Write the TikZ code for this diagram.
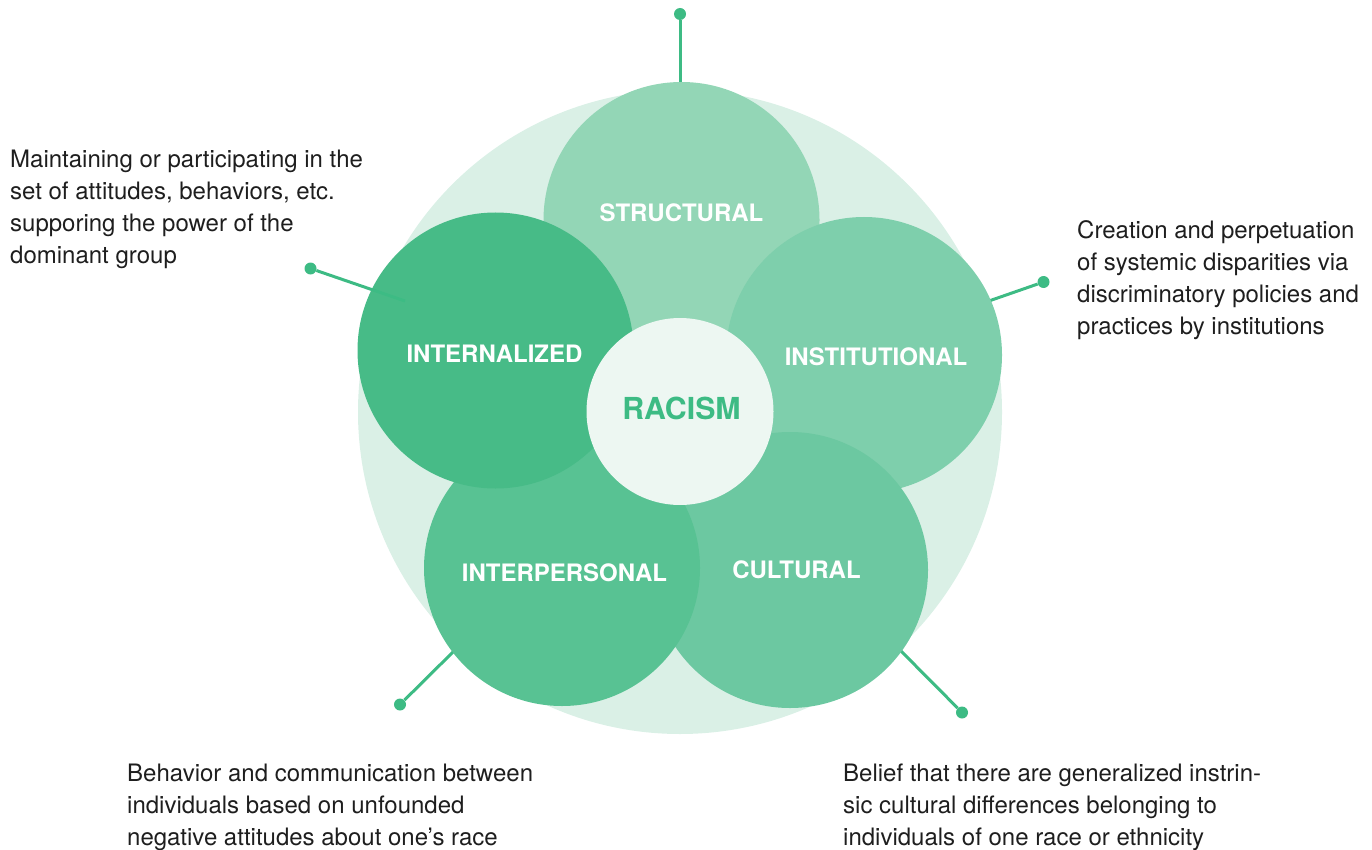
\documentclass[tikz,border=0pt]{standalone}
\usepackage{fontspec}
\setmainfont{TeX Gyre Heros}
\definecolor{bgc}{HTML}{DAF0E6}
\definecolor{cstruct}{HTML}{93D6B6}
\definecolor{cintern}{HTML}{47BB87}
\definecolor{cinst}{HTML}{7ECFAC}
\definecolor{cinter}{HTML}{58C293}
\definecolor{ccult}{HTML}{6CC8A1}
\definecolor{cracism}{HTML}{EDF7F2}
\definecolor{cline}{HTML}{3DBB84}
\definecolor{ctext}{HTML}{1E1E1E}
\tikzset{
  petal/.style={circle, inner sep=0pt, outer sep=0pt, minimum size=276pt},
  petaltext/.style={text=white, font=\fontsize{24}{26}\selectfont\bfseries, inner sep=0pt},
  dotnode/.style={circle, fill=cline, inner sep=0pt, minimum size=12pt},
  conn/.style={draw=cline, line width=3pt},
  desc/.style={anchor=base west, align=left, inner sep=0pt, text=ctext, font=\fontsize{24}{32}\selectfont}
}
\begin{document}
\begin{tikzpicture}[x=1pt,y=-1pt]
\useasboundingbox (0,0) rectangle (1372,850);
% background
\node[circle, fill=bgc, minimum size=644pt, inner sep=0pt] (bg) at (680,412) {};
% connectors under the circles
\node[dotnode] (dtop) at (680,14) {};
\coordinate (etop) at (680,86);
\draw[conn] (dtop) -- (etop);
\node[dotnode] (dinst) at (1043.5,282) {};
\coordinate (einst) at (986,302);
\draw[conn] (dinst) -- (einst);
\node[dotnode] (dinter) at (400,704.5) {};
\coordinate (einter) at (456,649);
\draw[conn] (dinter) -- (einter);
\node[dotnode] (dcult) at (962,712.5) {};
\coordinate (ecult) at (899,649);
\draw[conn] (dcult) -- (ecult);
% petals
\node[petal, fill=cstruct] (structural) at (681.5,220) {};
\node[petal, fill=cinst] (institutional) at (864,355) {};
\node[petal, fill=ccult] (cultural) at (790,570) {};
\node[petal, fill=cinter] (interpersonal) at (562,568) {};
\node[petal, fill=cintern] (internalized) at (495.5,350.5) {};
% internalized connector (visible over its circle)
\node[dotnode] (dintern) at (310.5,268.5) {};
\coordinate (eintern) at (405,301);
\draw[conn] (dintern) -- (eintern);
% centre
\node[circle, fill=cracism, minimum size=187pt, inner sep=0pt] (racism) at (680,411.5) {};
% labels
\node[petaltext] (lstruct) at (681.5,213) {STRUCTURAL};
\node[petaltext] (lintern) at (494.5,354) {INTERNALIZED};
\node[petaltext] (linst) at (876,357) {INSTITUTIONAL};
\node[petaltext] (linter) at (564.5,573) {INTERPERSONAL};
\node[petaltext] (lcult) at (796.5,570) {CULTURAL};
\node[text=cline, font=\fontsize{30.3}{32}\selectfont\bfseries, inner sep=0pt] (lracism) at (681.5,408) {RACISM};
% descriptions (anchor = baseline of the last line)
\node[desc] (tintern) at (10,263.5) {Maintaining or participating in the\\set of attitudes, behaviors, etc.\\supporing the power of the\\dominant group};
\node[desc] (tinst) at (1077,334) {Creation and perpetuation\\of systemic disparities via\\discriminatory policies and\\practices by institutions};
\node[desc] (tinter) at (127,845) {Behavior and communication between\\individuals based on unfounded\\negative attitudes about one’s race};
\node[desc] (tcult) at (843,845) {Belief that there are generalized instrin-\\sic cultural differences belonging to\\individuals of one race or ethnicity};
\end{tikzpicture}
\end{document}
